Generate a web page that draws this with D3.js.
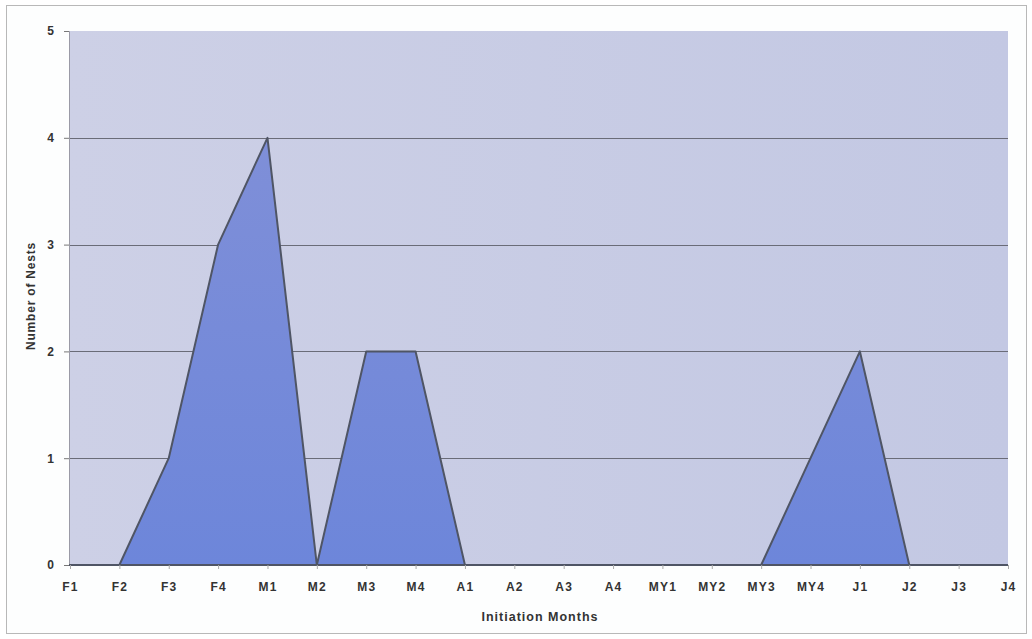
<!DOCTYPE html>
<html><head><meta charset="utf-8">
<script src="https://cdn.jsdelivr.net/npm/d3@7"></script>
<style>body{margin:0;background:#fff;}svg{display:block;}</style>
</head><body>
<svg id="c" width="1032" height="639"></svg>
<script>
const categories = ["F1","F2","F3","F4","M1","M2","M3","M4","A1","A2","A3","A4","MY1","MY2","MY3","MY4","J1","J2","J3","J4"];
const nests = [0,0,1,3,4,0,2,2,0,0,0,0,0,0,0,1,2,0,0,0];
const yTicks = [0,1,2,3,4,5];
const xTitle = "Initiation Months";
const yTitle = "Number of Nests";

const FONT = "Liberation Sans, Arial, sans-serif";
const svg = d3.select("#c");
const m = {l:69, r:1008, t:31, b:565};
svg.append("rect").attr("x",6.5).attr("y",5.5).attr("width",1020).attr("height",628)
  .attr("fill","#fdfefe").attr("stroke","#b8b8b8").attr("stroke-width",1);

const x = d3.scalePoint().domain(categories).range([70, 1008]);
const y = d3.scaleLinear().domain([0,5]).range([m.b, m.t]);

const defs = svg.append("defs");
const g1 = defs.append("linearGradient").attr("id","bg").attr("x1",0).attr("y1",0).attr("x2",1).attr("y2",0);
g1.append("stop").attr("offset","0%").attr("stop-color","#cdd0e6");
g1.append("stop").attr("offset","100%").attr("stop-color","#c3c8e3");
const g2 = defs.append("linearGradient").attr("id","ar").attr("x1",0).attr("y1",0).attr("x2",0).attr("y2",1);
g2.append("stop").attr("offset","0%").attr("stop-color","#7f8fd8");
g2.append("stop").attr("offset","100%").attr("stop-color","#6d86da");

svg.append("rect").attr("x",m.l).attr("y",m.t).attr("width",m.r-m.l).attr("height",m.b-m.t)
  .attr("fill","url(#bg)");

svg.append("g").selectAll("line").data(yTicks.filter(d=>d>0 && d<5)).join("line")
  .attr("x1",m.l).attr("x2",m.r).attr("y1",d=>Math.round(y(d))+0.5).attr("y2",d=>Math.round(y(d))+0.5)
  .attr("stroke","#6a6c78").attr("stroke-width",1.2);

const area = d3.area().x((d,i)=>x(categories[i])).y0(y(0)).y1(d=>y(d));
const line = d3.line().x((d,i)=>x(categories[i])).y(d=>y(d));
svg.append("path").datum(nests).attr("d",area).attr("fill","url(#ar)");
svg.append("path").datum(nests).attr("d",line).attr("fill","none")
  .attr("stroke","#4f5565").attr("stroke-width",2).attr("stroke-linejoin","round");

const yAxis = d3.axisLeft(y).tickValues(yTicks).tickFormat(d3.format("d")).tickSize(5).tickPadding(10);
const ya = svg.append("g").attr("transform",`translate(${m.l},0)`).call(yAxis);
ya.select(".domain").attr("stroke","#9a9aa6");
ya.selectAll(".tick line").attr("stroke","#777");
ya.selectAll("text").attr("font-family",FONT).attr("font-weight","bold")
  .attr("font-size",12).attr("fill","#333");

const xAxis = d3.axisBottom(x).tickSize(4).tickPadding(13);
const xa = svg.append("g").attr("transform",`translate(0,${m.b})`).call(xAxis);
xa.select(".domain").attr("stroke","#4f5565").attr("stroke-width",2).attr("d",`M${m.l},0H${m.r}`);
xa.selectAll(".tick line").attr("stroke","#aaa");
xa.selectAll("text").attr("font-family",FONT).attr("font-weight","bold")
  .attr("font-size",12).attr("letter-spacing","1.2px").attr("fill","#333");

svg.append("text").attr("x",540).attr("y",621).attr("text-anchor","middle")
  .attr("font-family",FONT).attr("font-weight","bold").attr("font-size",12.5).attr("letter-spacing","1px")
  .attr("fill","#333").text(xTitle);
svg.append("text").attr("transform","translate(35,296) rotate(-90)").attr("text-anchor","middle")
  .attr("font-family",FONT).attr("font-weight","bold").attr("font-size",12).attr("letter-spacing","0.8px")
  .attr("fill","#333").text(yTitle);
</script>
</body></html>
